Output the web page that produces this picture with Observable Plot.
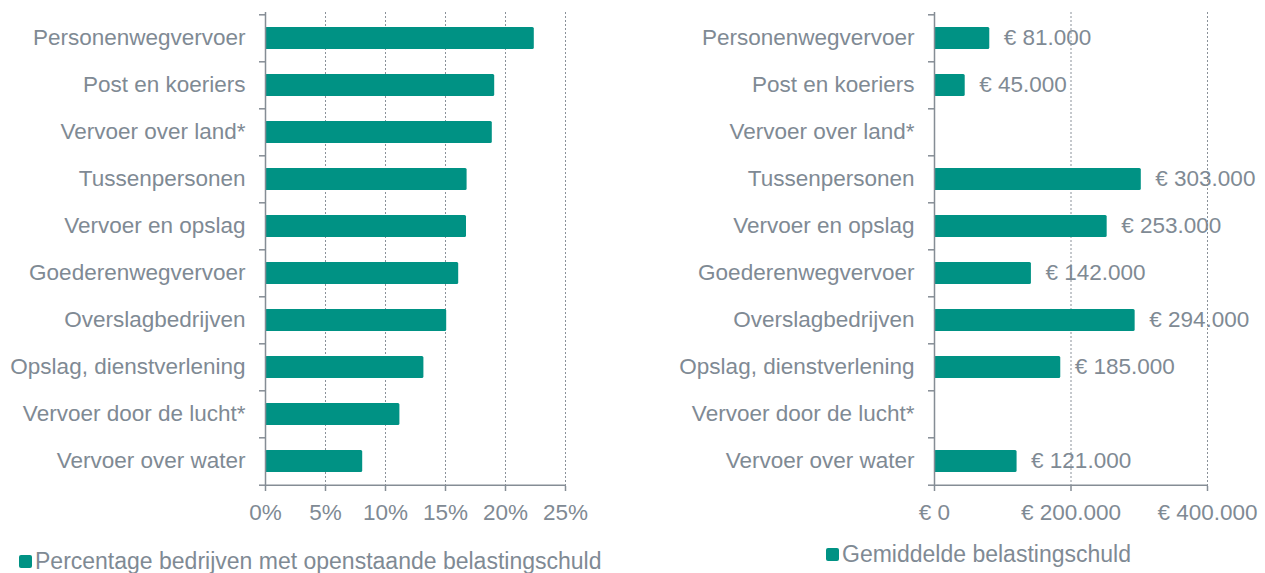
<!DOCTYPE html>
<html><head><meta charset="utf-8">
<script src="https://cdn.jsdelivr.net/npm/d3@7"></script>
<script src="https://cdn.jsdelivr.net/npm/@observablehq/plot@0.6"></script>
<style>
body{margin:0;background:#fff;font-family:"Liberation Sans",Arial,sans-serif;}
#wrap{position:relative;width:1265px;height:573px;overflow:hidden}
#left{position:absolute;left:0;top:0}
#right{position:absolute;left:620px;top:0}
.legend{position:absolute;font-size:23px;color:#7f8a94;display:flex;align-items:center;white-space:nowrap;line-height:24px;height:24px}
.sw{display:inline-block;width:13px;height:13px;background:#009284;margin-right:3px;border-radius:2px}
</style></head><body>
<div id="wrap"><div id="left"></div><div id="right"></div></div>
<script>
const categories = ["Personenwegvervoer","Post en koeriers","Vervoer over land*","Tussenpersonen","Vervoer en opslag","Goederenwegvervoer","Overslagbedrijven","Opslag, dienstverlening","Vervoer door de lucht*","Vervoer over water"];
const percentages = [22.4, 19.1, 18.9, 16.8, 16.75, 16.1, 15.1, 13.2, 11.2, 8.1];
const averageDebt = [81000, 45000, null, 303000, 253000, 142000, 294000, 185000, null, 121000];
const percentTicks = [0, 5, 10, 15, 20, 25];
const euroTicks = [0, 200000, 400000];
const seriesNames = ["Percentage bedrijven met openstaande belastingschuld", "Gemiddelde belastingschuld"];

const teal = "#009284", gray = "#7f8a94", axisGray = "#858d95", gridGray = "#8a9199";
const FS = 22.5;
const H = 529, MT = 12, MB = 43;
const step = (H - MT - MB) / categories.length;
const nl = d3.formatLocale({decimal: ",", thousands: ".", grouping: [3], currency: ["€ ", ""]});
const euro = v => "€ " + nl.format(",")(v);

function chart({width, marginLeft, marginRight, domain, ticks, fmt, values, labels}) {
  const data = categories.map((c, i) => ({cat: c, value: values[i]})).filter(d => d.value != null);
  return Plot.plot({
    width, height: H, marginTop: MT, marginBottom: MB, marginLeft, marginRight,
    style: {fontFamily: "'Liberation Sans', Arial, sans-serif", fontSize: FS + "px", color: gray, background: "transparent", overflow: "visible"},
    x: {domain},
    y: {domain: categories, paddingInner: 0.535, paddingOuter: 0.2675},
    marks: [
      Plot.ruleX(ticks.slice(1), {stroke: gridGray, strokeDasharray: "2,2", strokeWidth: 1}),
      Plot.barX(data, {x: "value", y: "cat", fill: teal, rx: 1.5}),
      labels ? Plot.text(data, {x: "value", y: "cat", text: d => fmt(d.value), dx: 14, dy: -0.5, textAnchor: "start", fill: gray, fontSize: FS}) : null,
      Plot.axisY({tickSize: 0, tickPadding: 20, dy: -0.5, label: null, fill: gray, fontSize: FS}),
      Plot.axisY({tickSize: 6, tickFormat: () => "", dy: -step / 2, label: null, stroke: axisGray, strokeWidth: 1.5}),
      Plot.axisY([categories[categories.length - 1]], {tickSize: 6, tickFormat: () => "", dy: step / 2, label: null, stroke: axisGray, strokeWidth: 1.5}),
      Plot.ruleX([0], {stroke: axisGray, strokeWidth: 1.5}),
      Plot.ruleY([categories[categories.length - 1]], {x1: domain[0], x2: domain[1], dy: step / 2, stroke: axisGray, strokeWidth: 1.5}),
      Plot.axisX({ticks, tickFormat: fmt, tickSize: 5, tickPadding: 13, label: null, stroke: axisGray, strokeWidth: 1.5, fill: gray, fontSize: FS})
    ]
  });
}

document.getElementById("left").append(chart({
  width: 620, marginLeft: 265, marginRight: 55, domain: [0, 25], ticks: percentTicks,
  fmt: v => v + "%", values: percentages, labels: false
}));
document.getElementById("right").append(chart({
  width: 645, marginLeft: 314, marginRight: 58, domain: [0, 400000], ticks: euroTicks,
  fmt: euro, values: averageDebt, labels: true
}));

const wrap = document.getElementById("wrap");
[[seriesNames[0], 19, 549], [seriesNames[1], 826, 542]].forEach(([name, x, y]) => {
  const d = document.createElement("div");
  d.className = "legend";
  d.style.left = x + "px"; d.style.top = y + "px";
  const s = document.createElement("span"); s.className = "sw";
  d.append(s, document.createTextNode(name));
  wrap.append(d);
});
</script>
</body></html>
